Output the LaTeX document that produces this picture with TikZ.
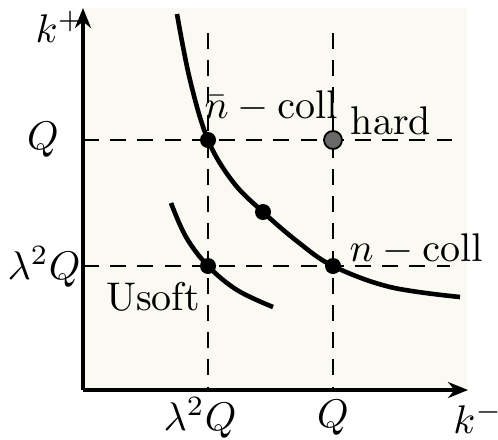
\documentclass[tikz,border=0pt]{standalone}
\usetikzlibrary{arrows.meta}
\definecolor{cream}{RGB}{250,249,242}
\definecolor{harddot}{RGB}{105,105,105}
\begin{document}
\begin{tikzpicture}[x=0.25pt,y=-0.25pt,
  axis/.style={line width=1.1pt,-{Stealth[length=5pt,width=4pt]}},
  guide/.style={line width=0.35pt,dash pattern=on 4pt off 2.8pt},
  curve/.style={line width=1.15pt},
  dot/.style={circle,fill=black,inner sep=0pt,minimum size=4pt},
  hdot/.style={circle,fill=harddot,draw=black,line width=0.45pt,inner sep=0pt,minimum size=4.5pt},
  lab/.style={inner sep=0pt}]
\useasboundingbox (0,0) rectangle (498,439);
\fill[cream] (83,8) rectangle (467,390);
\coordinate (O) at (83,390);
\coordinate (ytip) at (83,8);
\coordinate (xtip) at (468,390);
% guides
\coordinate (g1t) at (208,33);
\coordinate (g1b) at (208,390);
\coordinate (g2t) at (333,33);
\coordinate (g2b) at (333,390);
\coordinate (h1l) at (83,140);
\coordinate (h1r) at (452,140);
\coordinate (h2l) at (83,266);
\coordinate (h2r) at (450,266);
\draw[guide] (g1t) -- (g1b);
\draw[guide] (g2t) -- (g2b);
\draw[guide] (h1l) -- (h1r);
\draw[guide] (h2l) -- (h2r);
% curves
\draw[curve] plot[smooth,tension=0.6] coordinates {(177,14) (190,80) (208,140) (233,182) (263,212) (298,242) (333,266) (390,287) (460,297)};
\draw[curve] plot[smooth,tension=0.6] coordinates {(171,203) (186,237) (208,266) (237,290) (273,307)};
% axes
\draw[axis] (O) -- (ytip);
\draw[axis] (O) -- (xtip);
% dots
\node[dot] (nbar) at (208,140) {};
\node[hdot] (hard) at (333,140) {};
\node[dot] (mid) at (263,212) {};
\node[dot] (ncoll) at (333,266) {};
\node[dot] (us) at (208,266) {};
% labels
\node[lab] (kp) at (60,27) {$k^+$};
\node[lab] (qy) at (43,140) {$Q$};
\node[lab] (lqy) at (44,267) {$\lambda^2Q$};
\node[lab] (lqx) at (200,418) {$\lambda^2Q$};
\node[lab] (qx) at (333,418) {$Q$};
\node[lab] (km) at (478,418) {$k^-$};
\node[lab] (nbl) at (271,106) {$\bar n-\mathrm{coll}$};
\node[lab] (hl) at (391,121) {hard};
\node[lab] (nl) at (416,249) {$n-\mathrm{coll}$};
\node[lab] (ul) at (153,297) {Usoft};
\end{tikzpicture}
\end{document}
